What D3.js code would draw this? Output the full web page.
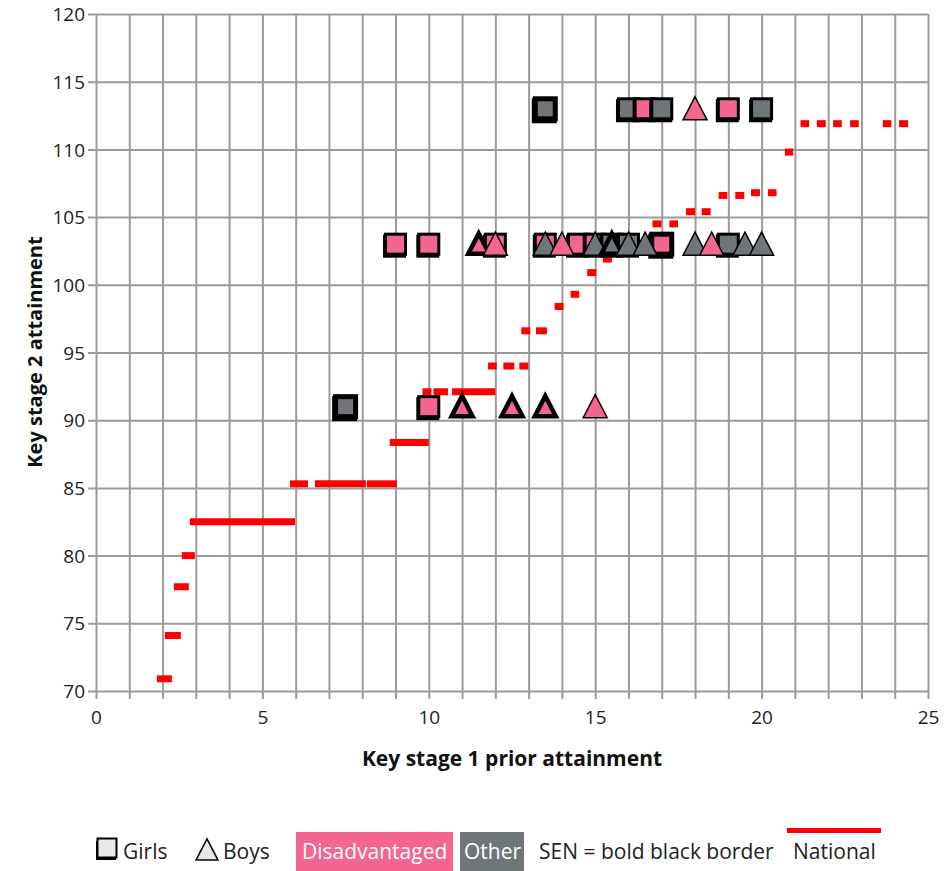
<!DOCTYPE html>
<html>
<head>
<meta charset="utf-8">
<script src="https://cdn.jsdelivr.net/npm/d3@7"></script>
<style>
  html, body { margin: 0; padding: 0; background: #fff; }
  svg { display: block; }
  text { font-family: "Open Sans", "Noto Sans", sans-serif; }
</style>
</head>
<body>
<svg id="chart" width="948" height="871"></svg>
<script>
// ---------------- DATA ----------------
const xTickValues = [0, 5, 10, 15, 20, 25];
const yTickValues = [70, 75, 80, 85, 90, 95, 100, 105, 110, 115, 120];

// National line: horizontal segments (start KS1, end KS1, KS2 value)
const nationalX1 = [1.83, 2.07, 2.34, 2.58, 2.82, 5.83, 6.58, 8.14, 8.83, 9.81, 10.14, 10.70, 11.78, 12.24, 12.72, 12.78, 13.22, 13.78, 14.26, 14.76, 15.23, 16.72, 17.23, 17.73, 18.20, 18.71, 19.21, 19.68, 20.19, 20.70, 21.17, 21.66, 22.15, 22.66, 23.64, 24.13];
const nationalX2 = [2.28, 2.55, 2.79, 2.97, 5.98, 6.37, 8.11, 9.04, 10.00, 10.08, 10.58, 12.00, 12.04, 12.57, 12.99, 13.05, 13.55, 14.05, 14.52, 15.03, 15.50, 16.99, 17.49, 18.00, 18.47, 18.97, 19.48, 19.95, 20.45, 20.95, 21.43, 21.93, 22.41, 22.92, 23.90, 24.40];
const nationalY  = [70.9, 74.1, 77.7, 80.0, 82.5, 85.3, 85.3, 85.3, 88.35, 92.1, 92.1, 92.1, 94.0, 94.0, 94.0, 96.6, 96.6, 98.4, 99.3, 100.9, 101.9, 104.5, 104.5, 105.4, 105.4, 106.6, 106.6, 106.8, 106.8, 109.8, 111.9, 111.9, 111.9, 111.9, 111.9, 111.9];

// Pupils: girls (squares)
const girlsKS1   = [7.5, 10, 9, 10, 12, 13.5, 14.5, 15, 15.5, 16, 17, 19, 13.5, 16, 16.5, 17, 19, 20];
const girlsKS2   = [91, 91, 103, 103, 103, 103, 103, 103, 103, 103, 103, 103, 113, 113, 113, 113, 113, 113];
const girlsGroup = ["Other", "Disadvantaged", "Disadvantaged", "Disadvantaged", "Disadvantaged", "Disadvantaged", "Disadvantaged", "Disadvantaged", "Other", "Other", "Disadvantaged", "Other", "Other", "Other", "Disadvantaged", "Other", "Disadvantaged", "Other"];
const girlsSEN   = [true, false, false, false, false, false, false, false, false, false, true, false, true, false, false, false, false, false];

// Pupils: boys (triangles)
const boysKS1   = [11, 12.5, 13.5, 15, 11.5, 12, 13.5, 14, 15, 15.5, 16, 16.5, 18, 18.5, 19.5, 20, 18];
const boysKS2   = [91, 91, 91, 91, 103, 103, 103, 103, 103, 103, 103, 103, 103, 103, 103, 103, 113];
const boysGroup = ["Disadvantaged", "Disadvantaged", "Disadvantaged", "Disadvantaged", "Disadvantaged", "Disadvantaged", "Other", "Disadvantaged", "Other", "Other", "Other", "Other", "Other", "Disadvantaged", "Other", "Other", "Disadvantaged"];
const boysSEN   = [true, true, true, false, true, false, false, false, false, true, false, false, false, false, false, false, false];

const groupNames  = ["Disadvantaged", "Other"];
const groupColors = ["#f4668f", "#6f7679"];

// ---------------- CHART ----------------
const svg = d3.select("#chart");

const x = d3.scaleLinear().domain([0, 25]).range([96, 928]);
const y = d3.scaleLinear().domain([70, 120]).range([691, 14]);
const color = d3.scaleOrdinal().domain(groupNames).range(groupColors);

const gridColor = "#9b9b9b";

// vertical grid (every 1 unit) extending as ticks below axis
const xGrid = d3.axisBottom(x).tickValues(d3.range(0, 26, 1)).tickSize(8).tickFormat("");
svg.append("g").attr("transform", "translate(0,691)")
  .call(xGrid)
  .call(g => g.select(".domain").remove())
  .call(g => g.selectAll("line").attr("stroke", gridColor).attr("stroke-width", 2).attr("y1", -(691 - 14)).attr("y2", 8));

// horizontal grid
const yGrid = d3.axisLeft(y).tickValues(yTickValues).tickSize(8).tickFormat("");
svg.append("g").attr("transform", "translate(96,0)")
  .call(yGrid)
  .call(g => g.select(".domain").remove())
  .call(g => g.selectAll("line").attr("stroke", gridColor).attr("stroke-width", 2).attr("x1", 928 - 96).attr("x2", -8));

// tick labels
const xAxis = d3.axisBottom(x).tickValues(xTickValues).tickSize(0).tickPadding(0);
svg.append("g").attr("transform", "translate(0,691)")
  .call(xAxis)
  .call(g => g.select(".domain").remove())
  .call(g => g.selectAll("text").attr("font-size", 19).attr("fill", "#222").attr("dy", null).attr("y", 33).attr("font-family", "'Open Sans', sans-serif"));

const yAxis = d3.axisLeft(y).tickValues(yTickValues).tickSize(0).tickPadding(0);
svg.append("g").attr("transform", "translate(96,0)")
  .call(yAxis)
  .call(g => g.select(".domain").remove())
  .call(g => g.selectAll("text").attr("font-size", 19).attr("fill", "#222").attr("x", -11).attr("dy", "0.35em").attr("font-family", "'Open Sans', sans-serif"));

// axis titles
svg.append("text").attr("x", 512).attr("y", 766).attr("text-anchor", "middle")
  .attr("font-size", 21).attr("font-weight", "bold").attr("fill", "#111")
  .text("Key stage 1 prior attainment");
svg.append("text").attr("transform", "translate(42,352) rotate(-90)").attr("text-anchor", "middle")
  .attr("font-size", 20).attr("font-weight", "bold").attr("fill", "#111")
  .text("Key stage 2 attainment");

// National line segments
const nationalData = nationalX1.map((d, i) => ({ x1: d, x2: nationalX2[i], y: nationalY[i] }));
svg.append("g").selectAll("line").data(nationalData).join("line")
  .attr("x1", d => x(d.x1)).attr("x2", d => x(d.x2))
  .attr("y1", d => y(d.y)).attr("y2", d => y(d.y))
  .attr("stroke", "#ff0000").attr("stroke-width", 7);

// Markers
const girls = girlsKS1.map((d, i) => ({ ks1: d, ks2: girlsKS2[i], group: girlsGroup[i], sen: girlsSEN[i] }));
const boys = boysKS1.map((d, i) => ({ ks1: d, ks2: boysKS2[i], group: boysGroup[i], sen: boysSEN[i] }));

const sq = 20;
const gSq = svg.append("g");
gSq.selectAll("g.m").data(girls).join("g").attr("class", "m").each(function (d) {
  const g = d3.select(this);
  const sw = d.sen ? 5 : 3;
  g.append("rect")
    .attr("x", x(d.ks1) - sq / 2 - 1).attr("y", y(d.ks2) - sq / 2 + 2)
    .attr("width", sq).attr("height", sq)
    .attr("fill", "none").attr("stroke", "#000").attr("stroke-width", sw);
  g.append("rect")
    .attr("x", x(d.ks1) - sq / 2).attr("y", y(d.ks2) - sq / 2)
    .attr("width", sq).attr("height", sq)
    .attr("fill", color(d.group)).attr("stroke", "#000").attr("stroke-width", sw);
});

const triPath = (cx, cy, s) => {
  const h = s * 0.92;
  return `M${cx},${cy - h / 2 - 1} L${cx + s / 2},${cy + h / 2} L${cx - s / 2},${cy + h / 2} Z`;
};
const gTri = svg.append("g");
gTri.selectAll("path").data(boys).join("path")
  .attr("d", d => d.sen ? triPath(x(d.ks1), y(d.ks2), 21) : triPath(x(d.ks1), y(d.ks2), 24))
  .attr("fill", d => color(d.group)).attr("stroke", "#000")
  .attr("stroke-width", d => d.sen ? 4.5 : 1.5).attr("stroke-linejoin", "miter");

// ---------------- LEGEND ----------------
const lg = svg.append("g").attr("font-size", 21).attr("fill", "#222");
lg.append("rect").attr("x", 96).attr("y", 841).attr("width", 20).attr("height", 19).attr("fill", "#000");
lg.append("rect").attr("x", 97.5).attr("y", 838.5).attr("width", 19).attr("height", 19).attr("fill", "#e8e8e8").attr("stroke", "#000").attr("stroke-width", 2);
lg.append("text").attr("x", 123).attr("y", 859).text("Girls");
lg.append("path").attr("d", triPath(207, 850, 22)).attr("fill", "#e8e8e8").attr("stroke", "#000").attr("stroke-width", 1.5);
lg.append("text").attr("x", 223).attr("y", 859).text("Boys");
lg.append("rect").attr("x", 296).attr("y", 832).attr("width", 157).attr("height", 39).attr("fill", groupColors[0]);
lg.append("text").attr("x", 302).attr("y", 859).attr("fill", "#fff").text("Disadvantaged");
lg.append("rect").attr("x", 460).attr("y", 832).attr("width", 64).attr("height", 39).attr("fill", groupColors[1]);
lg.append("text").attr("x", 464).attr("y", 859).attr("fill", "#fff").text("Other");
lg.append("text").attr("x", 539).attr("y", 859).text("SEN = bold black border");
lg.append("rect").attr("x", 787).attr("y", 828).attr("width", 94).attr("height", 5).attr("fill", "#ff0000");
lg.append("text").attr("x", 793).attr("y", 859).text("National");
</script>
</body>
</html>
